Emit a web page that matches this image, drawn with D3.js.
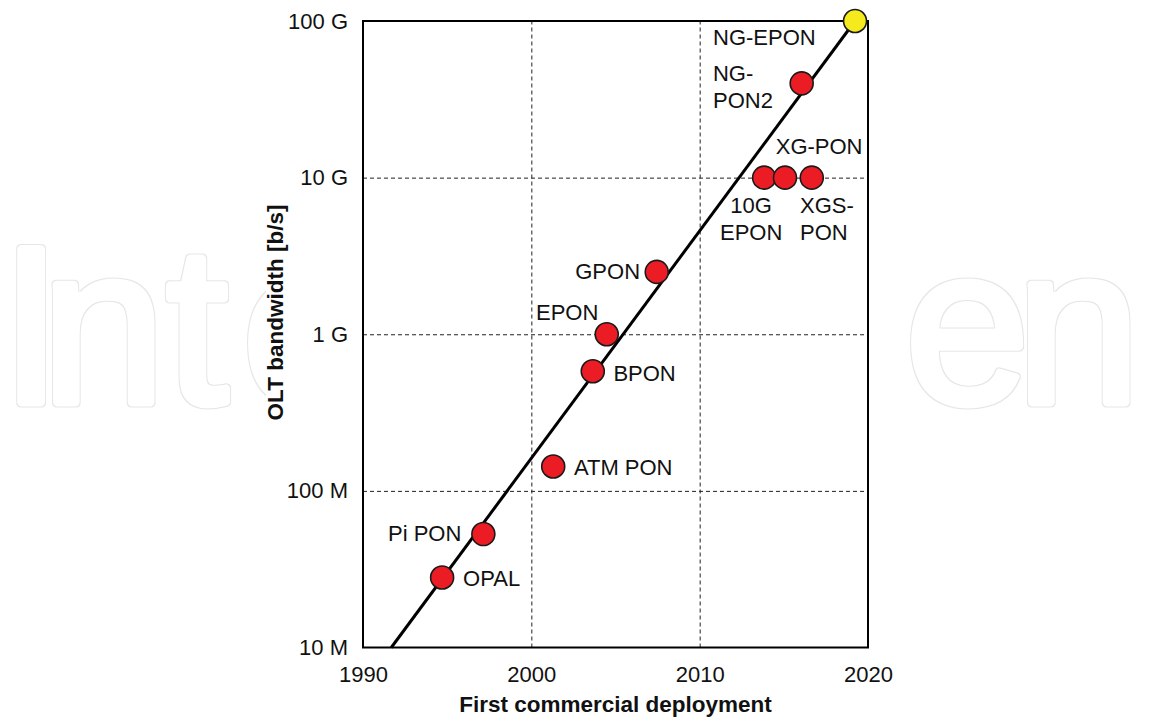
<!DOCTYPE html>
<html>
<head>
<meta charset="utf-8">
<script src="https://cdn.jsdelivr.net/npm/d3@7"></script>
<style>
  body { margin: 0; background: #fff; }
  svg { display: block; }
  text { font-family: Arial, "Liberation Sans", sans-serif; fill: #111; }
  .axis .domain { display: none; }
  .grid line { stroke: #222; stroke-width: 1; stroke-dasharray: 4,3; }
  .grid .domain { display: none; }
</style>
</head>
<body>
<div id="chart"></div>
<script>
// data
const names = ["OPAL", "Pi PON", "ATM PON", "BPON", "EPON", "GPON", "10G EPON", "XG-PON", "XGS-PON", "NG-PON2", "NG-EPON"];
const years = [1994.7, 1997.15, 2001.3, 2003.65, 2004.48, 2007.45, 2013.83, 2015.07, 2016.66, 2016.06, 2019.23];
const rates = [28e6, 53e6, 143e6, 580e6, 1e9, 2.5e9, 1e10, 1e10, 1e10, 40e9, 1e11];
const future = [false, false, false, false, false, false, false, false, false, false, true];

const trendYears = [1991.68, 2019.23];
const trendRates = [1e7, 1e11];

const xTicks = [1990, 2000, 2010, 2020];
const yTicks = [1e7, 1e8, 1e9, 1e10, 1e11];
const yTickLabels = ["10 M", "100 M", "1 G", "10 G", "100 G"];

// label placement relative to each point (layout only)
const labelLayout = {
  "OPAL":     { anchor: "start",  dx: 21,    dy: [8.7] , lines: ["OPAL"] },
  "Pi PON":   { anchor: "end",    dx: -22,   dy: [7.4] , lines: ["Pi PON"] },
  "ATM PON":  { anchor: "start",  dx: 20.7,  dy: [8.3] , lines: ["ATM PON"] },
  "BPON":     { anchor: "start",  dx: 20.6,  dy: [10]  , lines: ["BPON"] },
  "EPON":     { anchor: "end",    dx: -8.4,  dy: [-14.3], lines: ["EPON"] },
  "GPON":     { anchor: "end",    dx: -16.7, dy: [7.3] , lines: ["GPON"] },
  "10G EPON": { anchor: "middle", dx: -13,   dy: [35.7, 62], lines: ["10G", "EPON"] },
  "XG-PON":   { anchor: "start",  dx: -9.3,  dy: [-24] , lines: ["XG-PON"] },
  "XGS-PON":  { anchor: "start",  dx: -11.7, dy: [35.7, 62], lines: ["XGS-", "PON"] },
  "NG-PON2":  { anchor: "start",  dx: -88.7, dy: [-2.6, 24.7], lines: ["NG-", "PON2"] },
  "NG-EPON":  { anchor: "start",  dx: -142,  dy: [24]  , lines: ["NG-EPON"] }
};

const W = 1151, H = 718;
const margin = { top: 21, right: 283, bottom: 70.5, left: 363 };
const width = W - margin.left - margin.right;
const height = H - margin.top - margin.bottom;

const svg = d3.select("#chart").append("svg")
  .attr("width", W)
  .attr("height", H);

// outline filter for the watermark letters
const f = svg.append("defs").append("filter")
  .attr("id", "outline")
  .attr("filterUnits", "userSpaceOnUse")
  .attr("x", 0).attr("y", 0).attr("width", W).attr("height", H);
f.append("feMorphology").attr("in", "SourceAlpha").attr("operator", "erode").attr("radius", 1.2).attr("result", "inner");
f.append("feComposite").attr("in", "SourceAlpha").attr("in2", "inner").attr("operator", "out").attr("result", "ring");
f.append("feFlood").attr("flood-color", "#e6e6e6").attr("result", "c");
f.append("feComposite").attr("in", "c").attr("in2", "ring").attr("operator", "in");

// faint publisher watermark behind the figure
const wm = svg.append("g")
  .attr("filter", "url(#outline)")
  .style("font-family", "'Open Sans', sans-serif")
  .style("font-size", "224px");
[["I", 0], ["n", 41], ["t", 166], ["e", 242], ["p", 760], ["e", 905], ["n", 1016]].forEach(([ch, xx]) => {
  wm.append("text").attr("x", xx).attr("y", 403).text(ch)
    .style("fill", "#000").style("stroke", "#000")
    .style("stroke-width", 9).style("stroke-linejoin", "round");
});

// white backing of the figure itself
svg.append("rect")
  .attr("x", 266).attr("y", 0)
  .attr("width", 893 - 266).attr("height", H)
  .attr("fill", "#fff");

const g = svg.append("g").attr("transform", `translate(${margin.left},${margin.top})`);

const x = d3.scaleLinear().domain([1990, 2020]).range([0, width]);
const y = d3.scaleLog().domain([1e7, 1e11]).range([height, 0]);

// grid
g.append("g")
  .attr("class", "grid")
  .attr("transform", `translate(0,${height})`)
  .call(d3.axisBottom(x).tickValues(xTicks.slice(1, -1)).tickSize(-height).tickFormat(""));
g.append("g")
  .attr("class", "grid")
  .call(d3.axisLeft(y).tickValues(yTicks.slice(1, -1)).tickSize(-width).tickFormat(""));

// tick labels
g.append("g")
  .attr("class", "axis")
  .attr("transform", `translate(0,${height})`)
  .call(d3.axisBottom(x).tickValues(xTicks).tickSize(0).tickPadding(19).tickFormat(d3.format("d")))
  .call(a => a.selectAll("text").style("font-size", "22px").attr("fill", "#111"));
g.append("g")
  .attr("class", "axis")
  .call(d3.axisLeft(y).tickValues(yTicks).tickSize(0).tickPadding(15).tickFormat((d, i) => yTickLabels[i]))
  .call(a => a.selectAll("text").style("font-size", "22px").attr("fill", "#111"));

// frame
g.append("rect")
  .attr("width", width).attr("height", height)
  .attr("fill", "none").attr("stroke", "#000").attr("stroke-width", 2);

// trend line
const trend = trendYears.map((yr, i) => [yr, trendRates[i]]);
g.append("path")
  .datum(trend)
  .attr("fill", "none")
  .attr("stroke", "#000")
  .attr("stroke-width", 3)
  .attr("d", d3.line().x(d => x(d[0])).y(d => y(d[1])));

// points
const pts = names.map((n, i) => ({ name: n, year: years[i], rate: rates[i], future: future[i] }));

g.selectAll("circle.pt")
  .data(pts)
  .join("circle")
  .attr("class", "pt")
  .attr("cx", d => x(d.year))
  .attr("cy", d => y(d.rate))
  .attr("r", 11.5)
  .attr("fill", d => d.future ? "#f5ea1e" : "#ec1c24")
  .attr("stroke", "#1a1a1a")
  .attr("stroke-width", 1.6);

// point labels
pts.forEach(d => {
  const L = labelLayout[d.name];
  const t = g.append("text")
    .attr("text-anchor", L.anchor)
    .style("font-size", "22px");
  L.lines.forEach((line, k) => {
    t.append("tspan")
      .attr("x", x(d.year) + L.dx)
      .attr("y", y(d.rate) + L.dy[k])
      .text(line);
  });
});

// axis titles
svg.append("text")
  .attr("x", margin.left + width / 2)
  .attr("y", 712)
  .attr("text-anchor", "middle")
  .style("font-size", "22.5px")
  .style("font-weight", "bold")
  .text("First commercial deployment");

svg.append("text")
  .attr("transform", "translate(283,312.5) rotate(-90)")
  .attr("text-anchor", "middle")
  .style("font-size", "22.5px")
  .style("font-weight", "bold")
  .text("OLT bandwidth [b/s]");
</script>
</body>
</html>
